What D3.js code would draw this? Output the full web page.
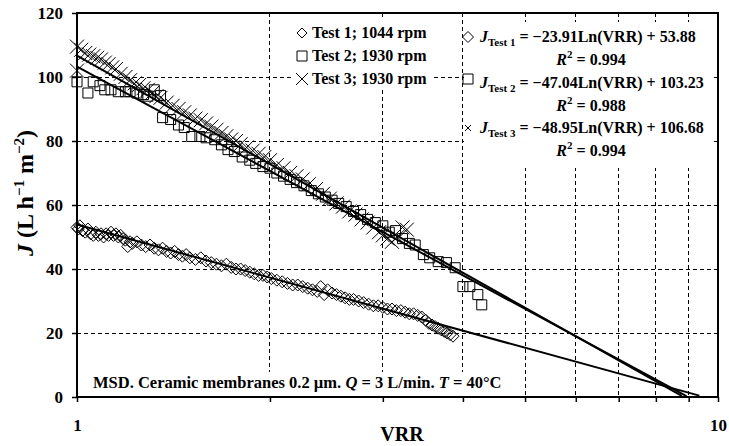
<!DOCTYPE html>
<html>
<head>
<meta charset=utf-8>
<style>
body {margin: 0; background: #fff;}
svg {display: block;}
text {font-family: 'Liberation Serif', 'Times New Roman', serif; font-weight: bold; fill: #000;}
.grid line {stroke: #000; stroke-width: 1; stroke-dasharray: 4,3; shape-rendering: crispEdges;}
.axis path {display: none;}
.axis line {stroke: #000; stroke-width: 1.5;}
.marker {fill: none; stroke: #000; stroke-width: 1;}
.trend {fill: none; stroke: #000; stroke-width: 2;}
</style>
</head>
<body>
<svg id=chart width=729 height=446></svg>

<script src='https://cdn.jsdelivr.net/npm/d3@7/dist/d3.min.js'></script>
<script>
//data
var test1VRR = [1.00,1.005,1.01,1.02,1.03,1.04,1.05,1.06,1.07,1.08,1.09,1.10,1.11,1.12,1.13,1.14,1.15,1.16,1.17,1.18,1.19,1.20,1.21,1.22,1.24,1.26,1.28,1.30,1.32,1.34,1.36,1.38,1.40,1.42,1.44,1.46,1.48,1.50,1.53,1.56,1.59,1.62,1.65,1.68,1.71,1.74,1.77,1.80,1.83,1.86,1.89,1.92,1.95,1.98,2.01,2.05,2.09,2.13,2.17,2.21,2.25,2.29,2.33,2.37,2.40,2.43,2.46,2.50,2.54,2.58,2.62,2.66,2.70,2.75,2.80,2.85,2.90,2.95,3.00,3.05,3.10,3.15,3.20,3.25,3.30,3.35,3.40,3.45,3.50,3.54,3.58,3.62,3.66,3.70,3.74,3.78,3.82,3.86];
var test1J = [53,52.5,53.5,52,51.5,52.5,51,50.5,51.5,50.5,51,50,51,50.5,51.5,50.5,51,50,50.5,49.5,49,47,48.5,48,48.5,47.5,47,47.5,46.5,46,46.5,45.5,45,45.5,44.5,44,44.5,43.5,43,43.5,42.5,42,41.5,41,41.5,40.5,40,40,39.5,39,38.5,38,38,37.5,37,36.5,36,35.5,35,35,34.5,34,33.5,33,34.5,32,33.5,32.5,32,31.5,31,30.5,30.5,30,29.5,29,28.5,28.5,28,27.5,27.5,27,27,26.5,26,26,25.5,25,24,23,22.5,22,21.5,21,20.5,20,19.5,19];

var test2VRR = [1.00,1.04,1.06,1.086,1.105,1.13,1.16,1.19,1.21,1.24,1.27,1.29,1.32,1.35,1.36,1.40,1.44,1.47,1.51,1.555,1.59,1.64,1.68,1.72,1.76,1.81,1.86,1.90,1.95,2.00,2.05,2.10,2.15,2.20,2.26,2.32,2.38,2.44,2.50,2.56,2.63,2.70,2.77,2.84,2.92,3.00,3.07,3.14,3.22,3.30,3.37,3.47,3.55,3.66,3.77,3.89,4.00,4.10,4.22,4.28];
var test2J = [98.5,95,98.5,97.3,96,96,95.4,95.4,95.4,95,94.5,94,96,94.2,87.3,86.7,85,84.2,81.4,81.4,81,80.4,78.8,77.3,76.7,75,74,73,72,71.5,70,69,68,67,66,64.5,63.5,62.5,61.5,60.5,59.5,58,57,55.5,54.5,53.5,51.5,52,49.5,48,47.5,44.5,43.5,42.3,42,40.4,34.5,34.5,32,28.8];

var test3VRR = [1.00,1.00,1.015,1.03,1.045,1.06,1.075,1.09,1.105,1.12,1.135,1.15,1.17,1.19,1.21,1.23,1.25,1.27,1.29,1.31,1.33,1.35,1.38,1.41,1.44,1.47,1.50,1.53,1.56,1.59,1.62,1.65,1.68,1.71,1.74,1.77,1.80,1.84,1.88,1.92,1.96,2.00,2.05,2.10,2.15,2.20,2.25,2.30,2.36,2.42,2.48,2.54,2.60,2.66,2.72,2.78,2.84,2.90,2.96,3.00,3.05,3.10,3.16,3.22,3.27];
var test3J = [109.5,102,108.5,107.5,107,106.5,106,105.5,104.5,104,103,102.5,101,100,99,98,97.5,96.5,96,95,94,93.5,92,91,90,89,88,87,86.5,85.5,84.5,83.5,82.5,81.5,80.5,80,79,78,77,76,75,74,72.5,71.5,70,69,68,66.5,65,63.5,62,60.5,59.5,58,57,55.5,54.5,53,51.5,50.5,49.5,48.5,50,53,52.3];

//log trendlines J = a*Ln(VRR) + b, drawn from VRR 1 to where they hit the axis
var trendSlope = [-23.91, -47.04, -48.95];
var trendIntercept = [53.88, 103.23, 106.68];
var trendEnd = [9.35, 8.93, 8.78];
var trendR2 = ['0.994', '0.988', '0.994'];

var legendLabels = ['Test 1; 1044 rpm', 'Test 2; 1930 rpm', 'Test 3; 1930 rpm'];
var yTicks = [0, 20, 40, 60, 80, 100, 120];
var xTicks = [1, 2, 3, 4, 5, 6, 7, 8, 9, 10];

//setup margins
var margin = {top: 13, right: 11, bottom: 49, left: 77};
var root = d3.select('#chart');
var width = +root.attr('width') - margin.left - margin.right;
var height = +root.attr('height') - margin.top - margin.bottom;
var svg = root.append('g')
    .attr('transform', 'translate(' + margin.left + ',' + margin.top + ')');

var x = d3.scaleLog().domain([1, 10]).range([0, width]);
var y = d3.scaleLinear().domain([0, 120]).range([height, 0]);

//marker shapes
function diamond(r) { return 'M0,' + (-r) + 'L' + r + ',0L0,' + r + 'L' + (-r) + ',0Z'; }
function square(r) { return 'M' + (-r) + ',' + (-r) + 'h' + 2*r + 'v' + 2*r + 'h' + (-2*r) + 'Z'; }
function cross(r) { return 'M' + (-r) + ',' + (-r) + 'L' + r + ',' + r + 'M' + (-r) + ',' + r + 'L' + r + ',' + (-r); }
var shapes = [diamond, square, cross];

//gridlines
svg.append('g').attr('class', 'grid')
  .selectAll('line').data(yTicks.slice(1, -1))
  .enter().append('line')
    .attr('x1', 0).attr('x2', width)
    .attr('y1', function(d) { return Math.round(y(d)) + 0.5; }).attr('y2', function(d) { return Math.round(y(d)) + 0.5; });
svg.append('g').attr('class', 'grid')
  .selectAll('line').data(xTicks.slice(1, -1))
  .enter().append('line')
    .attr('y1', 0).attr('y2', height)
    .attr('x1', function(d) { return x(d); }).attr('x2', function(d) { return x(d); });

//white boxes behind the legend, equations and note
var boxes = [[292 - 77, 18 - 13, 140, 72], [464 - 77, 22 - 13, 248, 146], [88 - 77, 372 - 13, 418, 24]];
svg.selectAll('.box').data(boxes)
  .enter().append('rect')
    .attr('class', 'box')
    .attr('x', function(d) { return d[0]; }).attr('y', function(d) { return d[1]; })
    .attr('width', function(d) { return d[2]; }).attr('height', function(d) { return d[3]; })
    .attr('fill', '#fff');

//axes
svg.append('g')
    .attr('class', 'axis')
    .call(d3.axisLeft(y).tickValues(yTicks).tickSize(5).tickPadding(9))
  .selectAll('text')
    .style('font-size', '17px');

svg.append('g')
    .attr('class', 'axis')
    .attr('transform', 'translate(0,' + height + ')')
    .call(d3.axisBottom(x).tickValues(xTicks).tickSize(5).tickPadding(17)
      .tickFormat(function(d) { return (d === 1 || d === 10) ? d : ''; }))
  .selectAll('text')
    .style('font-size', '17px');

//markers
var series = [[test1VRR, test1J, 6], [test2VRR, test2J, 5], [test3VRR, test3J, 7]];
series.forEach(function(s, k) {
  svg.append('g').selectAll('path')
    .data(d3.range(s[0].length))
    .enter().append('path')
      .attr('class', 'marker')
      .attr('transform', function(i) { return 'translate(' + x(s[0][i]) + ',' + y(s[1][i]) + ')'; })
      .attr('d', shapes[k](s[2]));
});

//trendlines
var line = d3.line()
    .x(function(d) { return x(d[0]); })
    .y(function(d) { return y(d[1]); });
trendSlope.forEach(function(a, k) {
  var pts = [1, trendEnd[k]].map(function(v) { return [v, a * Math.log(v) + trendIntercept[k]]; });
  svg.append('path').attr('class', 'trend').attr('d', line(pts));
});

//frame
svg.append('rect')
    .attr('width', width).attr('height', height)
    .attr('fill', 'none').attr('stroke', '#000').attr('stroke-width', 2);

//legend
var legendSize = [5, 5, 6];
legendLabels.forEach(function(t, k) {
  var by = 38 - 13 + k * 23;
  svg.append('path').attr('class', 'marker')
      .attr('transform', 'translate(' + (302 - 77) + ',' + (by - 5) + ')')
      .attr('d', shapes[k](legendSize[k]));
  svg.append('text')
      .attr('x', 312 - 77).attr('y', by)
      .style('font-size', '16px')
      .text(t);
});

//equations
var eqSize = [5.5, 5, 3];
var eqMarkerY = [37, 79, 128];
trendSlope.forEach(function(a, k) {
  var by = 42 - 13 + k * 45.5;
  svg.append('path').attr('class', 'marker')
      .attr('transform', 'translate(' + (468 - 77) + ',' + (eqMarkerY[k] - 13) + ')')
      .attr('d', shapes[k](eqSize[k]));
  var t = svg.append('text')
      .attr('x', 480 - 77).attr('y', by)
      .style('font-size', '16px');
  t.append('tspan').style('font-style', 'italic').text('J');
  t.append('tspan').attr('dy', 4).style('font-size', '11px').text('Test ' + (k + 1));
  t.append('tspan').attr('dy', -4)
      .text(' = \u2212' + Math.abs(a).toFixed(2) + 'Ln(VRR) + ' + trendIntercept[k].toFixed(2));
  var r = svg.append('text')
      .attr('x', 591 - 77).attr('y', by + 23)
      .attr('text-anchor', 'middle')
      .style('font-size', '16px');
  r.append('tspan').style('font-style', 'italic').text('R');
  r.append('tspan').attr('dy', -7).style('font-size', '11px').text('2');
  r.append('tspan').attr('dy', 7).text(' = ' + trendR2[k]);
});

//note at the bottom
var note = svg.append('text')
    .attr('x', 93 - 77).attr('y', 388 - 13)
    .style('font-size', '16.5px');
note.append('tspan').text('MSD. Ceramic membranes 0.2 \u00b5m. ');
note.append('tspan').style('font-style', 'italic').text('Q');
note.append('tspan').text(' = 3 L/min. ');
note.append('tspan').style('font-style', 'italic').text('T');
note.append('tspan').text(' = 40\u00b0C');

//axis titles
svg.append('text')
    .attr('text-anchor', 'middle')
    .attr('x', 402 - 77).attr('y', 441 - 13)
    .style('font-size', '20px')
    .text('VRR');

var yt = svg.append('text')
    .attr('text-anchor', 'middle')
    .attr('transform', 'translate(' + (33 - 77) + ',' + (193 - 13) + ') rotate(-90)')
    .style('font-size', '24px');
yt.append('tspan').style('font-style', 'italic').text('J');
yt.append('tspan').text(' (L h');
yt.append('tspan').attr('dy', -9).style('font-size', '15px').text('\u22121');
yt.append('tspan').attr('dy', 9).text(' m');
yt.append('tspan').attr('dy', -9).style('font-size', '15px').text('\u22122');
yt.append('tspan').attr('dy', 9).text(')');
</script>
</body>
</html>
